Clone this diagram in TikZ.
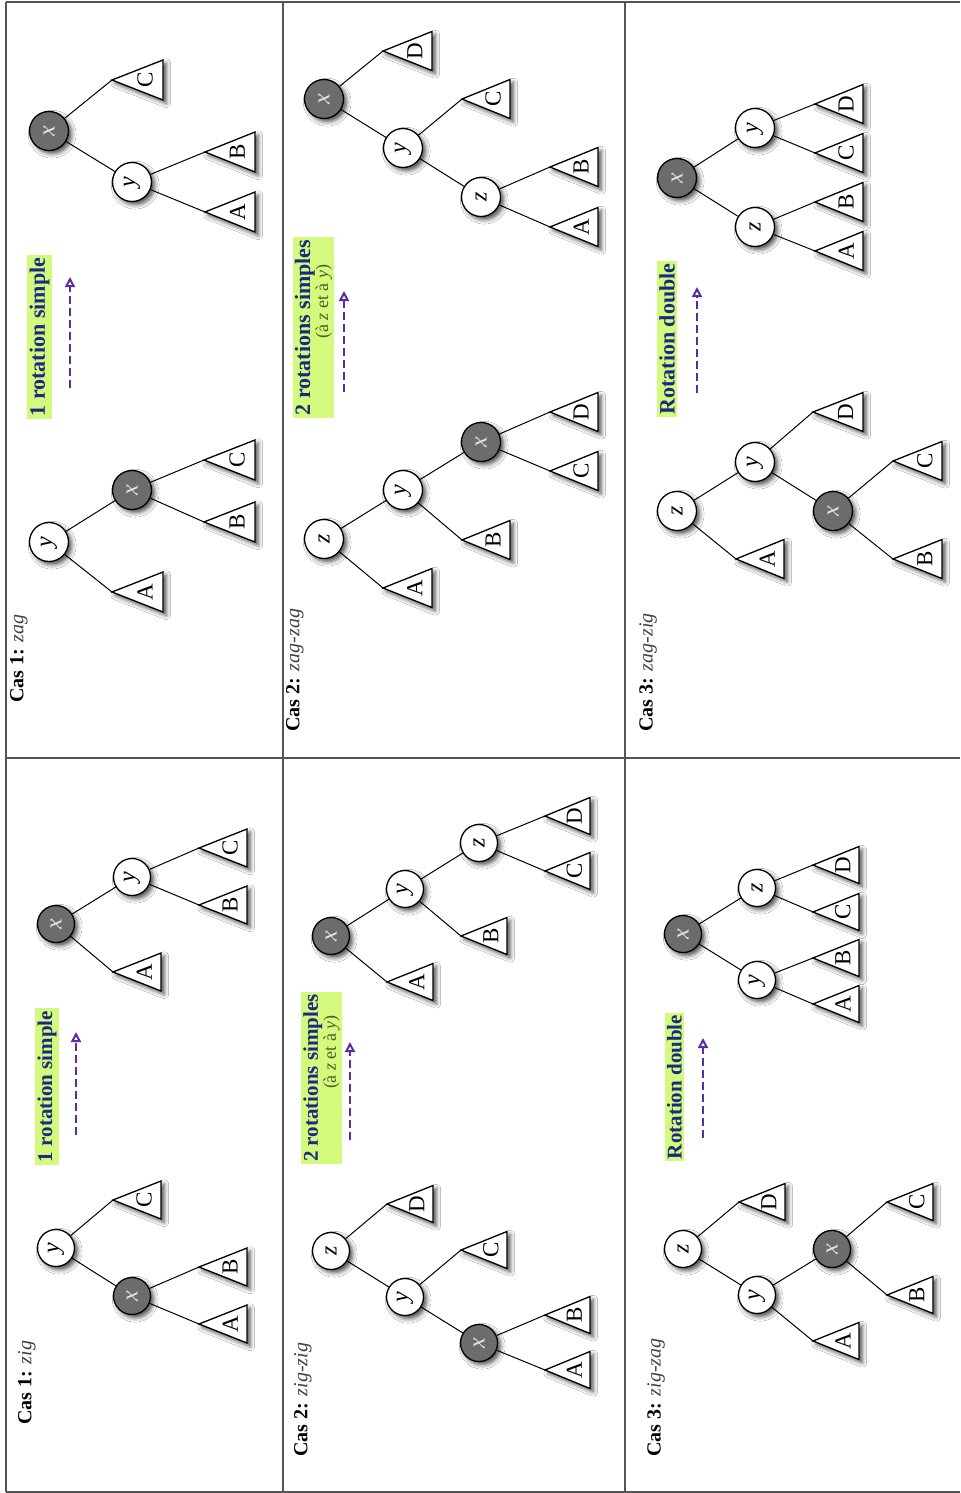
\documentclass[tikz,border=0pt]{standalone}
\usepackage{fontspec}
\setmainfont{Liberation Serif}
\usetikzlibrary{shadows.blur,arrows.meta}

\definecolor{boxgreen}{HTML}{D3FA7C}
\definecolor{capblue}{HTML}{1B2A80}
\definecolor{flowpurple}{HTML}{5B2DA3}
\definecolor{noteolive}{HTML}{505C2E}
\definecolor{rootgray}{HTML}{6C6C6C}
\definecolor{framegray}{HTML}{555555}

\newcommand\up[1]{\rotatebox{90}{#1}}

\tikzset{
  x=0.5pt, y=-0.5pt,
  shade/.style={blur shadow={shadow xshift=1.6pt, shadow yshift=-1.6pt,
      shadow blur radius=2.2pt, shadow opacity=70}},
  key/.style={circle, draw, line width=0.65pt, fill=white, inner sep=0pt,
      minimum size=19.5pt, font=\fontsize{12}{14}\selectfont\itshape, shade},
  keyb/.style={key, minimum size=18.5pt},
  root/.style={key, fill=rootgray, text=white!90!black},
  rootb/.style={root, minimum size=18.5pt},
  edge/.style={line width=0.5pt},
  subt/.style={draw, line width=0.65pt, fill=white, line join=miter, shade},
  sublbl/.style={rotate=90, inner sep=0pt, font=\fontsize{11.5}{13}\selectfont},
  note/.style={rotate=90, fill=boxgreen, text=capblue, inner sep=1.2pt,
      align=center, font=\fontsize{11}{10}\selectfont\bfseries},
  noteb/.style={note, font=\fontsize{10.5}{10}\selectfont\bfseries},
  flow/.style={draw=flowpurple, line width=1pt, dash pattern=on 4pt off 2pt,
      -{Triangle[open, length=5pt, width=5pt]}},
  caption/.style={rotate=90, anchor=west, inner sep=0pt,
      font=\fontsize{10}{12}\selectfont},
  frame/.style={draw=framegray, line width=0.8pt},
}

% name, apex x, apex y, base x, half base, label
\newcommand\subtree[6]{%
  \coordinate (#1) at (#2,#3);
  \path[subt] (#1) -- (#4,#3-#5) -- (#4,#3+#5) -- cycle;
  \node[sublbl] (#1l) at ({#4-0.35*(#4-#2)},#3) {#6};
}

\newcommand\twice{\hspace*{26pt}{\fontsize{9}{9.5}\selectfont\mdseries\color{noteolive}(à \textit{z} et à \textit{y})}}

\begin{document}
\begin{tikzpicture}
\useasboundingbox (0,0) rectangle (960,1493);
\fill[white] (0,0) rectangle (960,1493);

% table rules
\draw[frame] (6,2) -- (960,2);
\draw[frame] (6,758) -- (960,758);
\draw[frame] (6,1492) -- (960,1492);
\draw[frame] (6,2) -- (6,1492);
\draw[frame] (283,2) -- (283,1492);
\draw[frame] (625,2) -- (625,1492);

% ---------------- Cas 1 : zag ----------------
\node[caption] (aCap) at (19,703) {\textbf{Cas 1:} \textcolor{black!75}{\textit{zag}}};
\node[key]  (a1y) at (49,542) {\up{y}};
\node[root] (a1x) at (132,490) {\up{x}};
\subtree{a1A}{112}{592}{163}{20}{A}
\subtree{a1B}{204}{522}{255}{20}{B}
\subtree{a1C}{204}{460}{255}{20}{C}
\draw[edge] (a1y) -- (a1A);
\draw[edge] (a1y) -- (a1x);
\draw[edge] (a1x) -- (a1B);
\draw[edge] (a1x) -- (a1C);

\node[note] (aNote) at (39.5,337) {1 rotation simple};
\coordinate (aTail) at (70,388);
\coordinate (aTip) at (70,277);
\draw[flow] (aTail) -- (aTip);

\node[root] (a2x) at (49,131) {\up{x}};
\node[key]  (a2y) at (132,182) {\up{y}};
\subtree{a2C}{112}{80}{163}{20}{C}
\subtree{a2B}{205}{152}{255}{20}{B}
\subtree{a2A}{205}{212}{255}{20}{A}
\draw[edge] (a2x) -- (a2C);
\draw[edge] (a2x) -- (a2y);
\draw[edge] (a2y) -- (a2B);
\draw[edge] (a2y) -- (a2A);

% ---------------- Cas 2 : zag-zag ----------------
\node[caption] (bCap) at (295,732) {\textbf{Cas 2:} \textcolor{black!75}{\textit{zag-zag}}};
\node[key]  (b1z) at (324,539) {\up{z}};
\node[key]  (b1y) at (403,490) {\up{y}};
\node[root] (b1x) at (481,442) {\up{x}};
\subtree{b1A}{383}{588}{432}{19.5}{A}
\subtree{b1B}{462}{540}{510}{19.5}{B}
\subtree{b1C}{550}{471}{598}{19.5}{C}
\subtree{b1D}{550}{412}{598}{19.5}{D}
\draw[edge] (b1z) -- (b1A);
\draw[edge] (b1z) -- (b1y);
\draw[edge] (b1y) -- (b1B);
\draw[edge] (b1y) -- (b1x);
\draw[edge] (b1x) -- (b1C);
\draw[edge] (b1x) -- (b1D);

\node[note] (bNote) at (313.5,327.5) {2 rotations simples\\[-1pt]\twice};
\coordinate (bTail) at (344,392);
\coordinate (bTip) at (344,291);
\draw[flow] (bTail) -- (bTip);

\node[root] (b2x) at (324,99) {\up{x}};
\node[key]  (b2y) at (403,148) {\up{y}};
\node[key]  (b2z) at (481,197) {\up{z}};
\subtree{b2D}{383}{51}{432}{19.5}{D}
\subtree{b2C}{462}{99}{510}{19.5}{C}
\subtree{b2B}{550}{167}{598}{19.5}{B}
\subtree{b2A}{550}{227}{598}{19.5}{A}
\draw[edge] (b2x) -- (b2D);
\draw[edge] (b2x) -- (b2y);
\draw[edge] (b2y) -- (b2C);
\draw[edge] (b2y) -- (b2z);
\draw[edge] (b2z) -- (b2B);
\draw[edge] (b2z) -- (b2A);

% ---------------- Cas 3 : zag-zig ----------------
\node[caption] (cCap) at (648,732) {\textbf{Cas 3:} \textcolor{black!75}{\textit{zag-zig}}};
\node[key]  (c1z) at (677,511) {\up{z}};
\node[key]  (c1y) at (755,462) {\up{y}};
\node[root] (c1x) at (833,511) {\up{x}};
\subtree{c1A}{736}{559}{784}{19.5}{A}
\subtree{c1D}{813}{412}{863}{19.5}{D}
\subtree{c1C}{893}{461}{942}{19.5}{C}
\subtree{c1B}{893}{559}{942}{19.5}{B}
\draw[edge] (c1z) -- (c1A);
\draw[edge] (c1z) -- (c1y);
\draw[edge] (c1y) -- (c1D);
\draw[edge] (c1y) -- (c1x);
\draw[edge] (c1x) -- (c1C);
\draw[edge] (c1x) -- (c1B);

\node[note] (cNote) at (667,339) {Rotation double};
\coordinate (cTail) at (697,393);
\coordinate (cTip) at (697,287);
\draw[flow] (cTail) -- (cTip);

\node[root] (c2x) at (677,178) {\up{x}};
\node[key]  (c2y) at (755,128) {\up{y}};
\node[key]  (c2z) at (755,227) {\up{z}};
\subtree{c2D}{815}{104}{863}{19.5}{D}
\subtree{c2C}{815}{153}{863}{19.5}{C}
\subtree{c2B}{815}{202}{863}{19.5}{B}
\subtree{c2A}{815}{251}{863}{19.5}{A}
\draw[edge] (c2x) -- (c2y);
\draw[edge] (c2x) -- (c2z);
\draw[edge] (c2y) -- (c2D);
\draw[edge] (c2y) -- (c2C);
\draw[edge] (c2z) -- (c2B);
\draw[edge] (c2z) -- (c2A);

% ---------------- Cas 1 : zig ----------------
\node[caption] (dCap) at (27,1425) {\textbf{Cas 1:} \textcolor{black!75}{\textit{zig}}};
\node[keyb]  (d1y) at (56,1248) {\up{y}};
\node[rootb] (d1x) at (132,1296) {\up{x}};
\subtree{d1C}{113}{1200}{161}{19}{C}
\subtree{d1B}{199}{1267}{247}{19}{B}
\subtree{d1A}{199}{1324}{247}{19}{A}
\draw[edge] (d1y) -- (d1C);
\draw[edge] (d1y) -- (d1x);
\draw[edge] (d1x) -- (d1B);
\draw[edge] (d1x) -- (d1A);

\node[noteb] (dNote) at (47,1086.5) {1 rotation simple};
\coordinate (dTail) at (76,1135);
\coordinate (dTip) at (76,1032);
\draw[flow] (dTail) -- (dTip);

\node[rootb] (d2x) at (56,924) {\up{x}};
\node[keyb]  (d2y) at (132,877) {\up{y}};
\subtree{d2A}{113}{972}{161}{19}{A}
\subtree{d2B}{199}{905}{247}{19}{B}
\subtree{d2C}{199}{848}{247}{19}{C}
\draw[edge] (d2x) -- (d2A);
\draw[edge] (d2x) -- (d2y);
\draw[edge] (d2y) -- (d2B);
\draw[edge] (d2y) -- (d2C);

% ---------------- Cas 2 : zig-zig ----------------
\node[caption] (eCap) at (303,1457) {\textbf{Cas 2:} \textcolor{black!75}{\textit{zig-zig}}};
\node[keyb]  (e1z) at (331,1251) {\up{z}};
\node[keyb]  (e1y) at (405,1297) {\up{y}};
\node[rootb] (e1x) at (479,1343) {\up{x}};
\subtree{e1D}{387}{1204}{433}{18.5}{D}
\subtree{e1C}{461}{1250}{507}{18.5}{C}
\subtree{e1B}{545}{1315}{590}{18.5}{B}
\subtree{e1A}{545}{1370}{590}{18.5}{A}
\draw[edge] (e1z) -- (e1D);
\draw[edge] (e1z) -- (e1y);
\draw[edge] (e1y) -- (e1C);
\draw[edge] (e1y) -- (e1x);
\draw[edge] (e1x) -- (e1B);
\draw[edge] (e1x) -- (e1A);

\node[noteb] (eNote) at (321.5,1078) {2 rotations simples\\[-1pt]\twice};
\coordinate (eTail) at (350,1140);
\coordinate (eTip) at (350,1042);
\draw[flow] (eTail) -- (eTip);

\node[rootb] (e2x) at (331,936) {\up{x}};
\node[keyb]  (e2y) at (405,889) {\up{y}};
\node[keyb]  (e2z) at (479,843) {\up{z}};
\subtree{e2A}{387}{982}{433}{18.5}{A}
\subtree{e2B}{461}{936}{507}{18.5}{B}
\subtree{e2C}{545}{871}{590}{18.5}{C}
\subtree{e2D}{545}{816}{590}{18.5}{D}
\draw[edge] (e2x) -- (e2A);
\draw[edge] (e2x) -- (e2y);
\draw[edge] (e2y) -- (e2B);
\draw[edge] (e2y) -- (e2z);
\draw[edge] (e2z) -- (e2C);
\draw[edge] (e2z) -- (e2D);

% ---------------- Cas 3 : zig-zag ----------------
\node[caption] (fCap) at (656,1457) {\textbf{Cas 3:} \textcolor{black!75}{\textit{zig-zag}}};
\node[keyb]  (f1z) at (683,1249) {\up{z}};
\node[keyb]  (f1y) at (757,1295) {\up{y}};
\node[rootb] (f1x) at (832,1249) {\up{x}};
\subtree{f1D}{739}{1202}{785}{18.5}{D}
\subtree{f1A}{813}{1341}{859}{18.5}{A}
\subtree{f1C}{887}{1202}{933}{18.5}{C}
\subtree{f1B}{887}{1295}{933}{18.5}{B}
\draw[edge] (f1z) -- (f1D);
\draw[edge] (f1z) -- (f1y);
\draw[edge] (f1y) -- (f1A);
\draw[edge] (f1y) -- (f1x);
\draw[edge] (f1x) -- (f1C);
\draw[edge] (f1x) -- (f1B);

\node[noteb] (fNote) at (674.5,1087) {Rotation double};
\coordinate (fTail) at (703,1138);
\coordinate (fTip) at (703,1038);
\draw[flow] (fTail) -- (fTip);

\node[rootb] (f2x) at (683,934) {\up{x}};
\node[keyb]  (f2z) at (757,888) {\up{z}};
\node[keyb]  (f2y) at (757,980) {\up{y}};
\subtree{f2D}{813}{865}{859}{18.5}{D}
\subtree{f2C}{813}{912}{859}{18.5}{C}
\subtree{f2B}{813}{958}{859}{18.5}{B}
\subtree{f2A}{813}{1004}{859}{18.5}{A}
\draw[edge] (f2x) -- (f2z);
\draw[edge] (f2x) -- (f2y);
\draw[edge] (f2z) -- (f2D);
\draw[edge] (f2z) -- (f2C);
\draw[edge] (f2y) -- (f2B);
\draw[edge] (f2y) -- (f2A);
\end{tikzpicture}
\end{document}
